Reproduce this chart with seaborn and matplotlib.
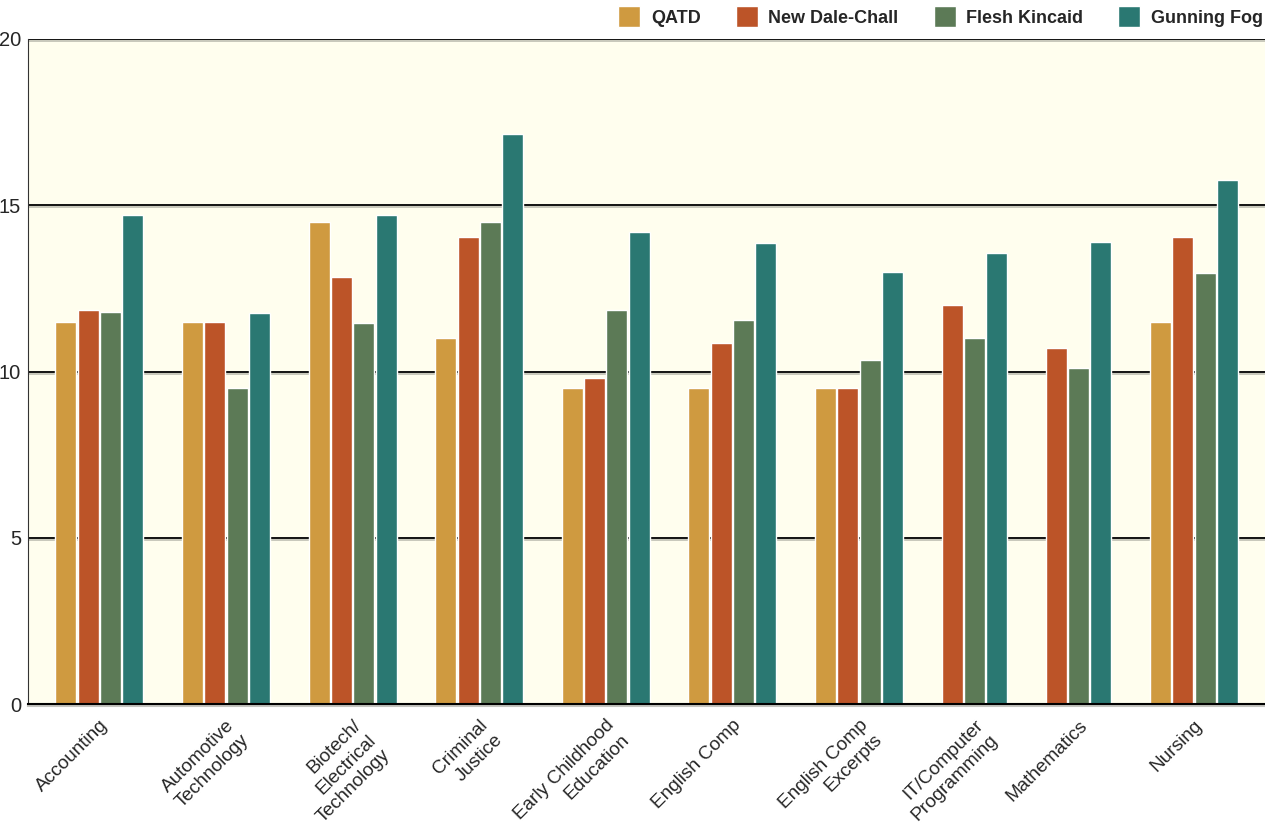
import numpy as np
import pandas as pd
import matplotlib
matplotlib.use("Agg")
import matplotlib.pyplot as plt
import matplotlib.transforms as mtransforms
import matplotlib.patheffects as pe
import seaborn as sns

# data
subjects = ["Accounting", "Automotive\nTechnology", "Biotech/\nElectrical\nTechnology",
            "Criminal\nJustice", "Early Childhood\nEducation", "English Comp",
            "English Comp\nExcerpts", "IT/Computer\nProgramming", "Mathematics", "Nursing"]
measures = ["QATD", "New Dale-Chall", "Flesh Kincaid", "Gunning Fog"]
qatd = [11.5, 11.5, 14.5, 11.0, 9.5, 9.5, 9.5, np.nan, np.nan, 11.5]
dale_chall = [11.85, 11.5, 12.85, 14.05, 9.8, 10.85, 9.5, 12.0, 10.7, 14.05]
flesh_kincaid = [11.8, 9.5, 11.45, 14.5, 11.85, 11.55, 10.35, 11.0, 10.1, 12.95]
gunning_fog = [14.7, 11.75, 14.7, 17.15, 14.2, 13.85, 13.0, 13.55, 13.9, 15.75]
colors = ["#CF9A40", "#BC5428", "#5C7A56", "#2A7872"]

# groups only hold the bars that exist, so groups without QATD are narrower
group_gap = 1.67
series = dict(zip(measures, [qatd, dale_chall, flesh_kincaid, gunning_fog]))
rows = []
k = 0
for gi, subj in enumerate(subjects):
    for m in measures:
        v = series[m][gi]
        if np.isnan(v):
            continue
        rows.append({"subject": subj, "measure": m, "grade": v, "pos": k + gi * group_gap})
        k += 1
df = pd.DataFrame(rows)
centers = df.groupby("subject", sort=False)["pos"].mean()

sns.set_style("white")
plt.rcParams['font.family'] = ['Liberation Sans', 'DejaVu Sans']

fig = plt.figure(figsize=(12.65, 8.24), dpi=100)
ax = fig.add_axes([28 / 1265, 120 / 824, 1 - 28 / 1265, 665 / 824])
ax.set_facecolor("#FFFEEE")

sns.barplot(data=df, x="pos", y="grade", hue="measure", hue_order=measures,
            palette=colors, native_scale=True, dodge=False, width=0.94,
            saturation=1, ax=ax, legend=True)

ax.set_ylim(0, 20)
ax.set_xlim(-1.7, df["pos"].max() + 1.68)
ax.set_yticks([0, 5, 10, 15, 20])
ax.set_xticks(centers.values)
ax.set_xticklabels(centers.index)
ax.yaxis.grid(True, color="black", linewidth=1.3)
ax.xaxis.grid(False)
ax.set_axisbelow(True)
shadow = [pe.SimpleLineShadow(offset=(0, -1.6), shadow_color="#8a8a80", alpha=0.5), pe.Normal()]
for gl in ax.get_ygridlines():
    gl.set_path_effects(shadow)
for s in ["top", "right"]:
    ax.spines[s].set_visible(False)
ax.spines["left"].set_color("#333333")
ax.spines["bottom"].set_color("black")
ax.spines["bottom"].set_linewidth(1.5)
ax.spines["bottom"].set_path_effects(shadow)
ax.tick_params(axis="both", length=0)
ax.tick_params(axis="y", labelsize=14.5, pad=5)
ax.set_xlabel("")
ax.set_ylabel("")

offset = mtransforms.ScaledTranslation(0, -8 / 100, fig.dpi_scale_trans)
for lab in ax.get_xticklabels():
    lab.set_rotation(45)
    lab.set_ha("right")
    lab.set_va("top")
    lab.set_rotation_mode("anchor")
    lab.set_multialignment("right")
    lab.set_linespacing(1.28)
    lab.set_fontsize(13.7)
    lab.set_transform(lab.get_transform() + offset)

handles, labels = ax.get_legend_handles_labels()
ax.get_legend().remove()
fig.legend(handles, labels, loc="upper right", bbox_to_anchor=(1.0115, 1.012), ncol=4,
           frameon=False, handlelength=1.22, handleheight=1.4, columnspacing=1.94,
           handletextpad=0.6, prop={"weight": "bold", "size": 13})

plt.savefig("out.png", dpi=100)
